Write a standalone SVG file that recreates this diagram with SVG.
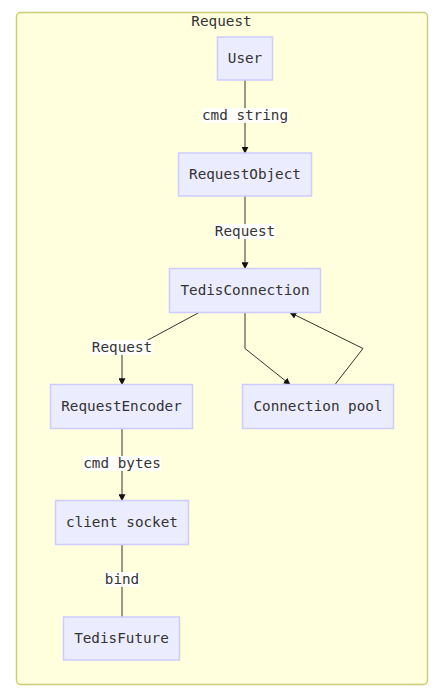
<svg xmlns="http://www.w3.org/2000/svg" width="442" height="697" viewBox="0 0 442 697">
<defs>
<style>
text{font-family:"DejaVu Sans Mono","Liberation Mono",monospace;font-size:14.3px;fill:#333;text-anchor:middle;dominant-baseline:central}
.node rect{fill:#ececff;stroke:#ccccff;stroke-width:1.5}
.edge{fill:none;stroke:#333;stroke-width:1}
.lbl{fill:#ffffff;opacity:0.9}
</style>
<marker id="arr" viewBox="0 0 10 10" refX="9" refY="5" markerWidth="7" markerHeight="7" orient="auto" markerUnits="userSpaceOnUse">
<path d="M0,0 L10,5 L0,10 z" fill="#111"/>
</marker>
</defs>
<rect width="442" height="697" fill="#ffffff"/>
<g id="cluster-Request">
<rect x="16.5" y="12.5" width="411" height="672" rx="4" fill="#ffffde" stroke="#cccc77" stroke-width="1.5"/>
<text x="221.5" y="20.5">Request</text>
</g>
<g id="connectors">
<path class="edge" d="M245,80 V153" marker-end="url(#arr)"/>
<path class="edge" d="M245,196 V268.5" marker-end="url(#arr)"/>
<path class="edge" d="M199,312.5 L122,354 V384.5" marker-end="url(#arr)"/>
<path class="edge" d="M245,312.5 V348.5 L290,384.5" marker-end="url(#arr)"/>
<path class="edge" d="M335,384.5 L363,348.5 L290,312.5" marker-end="url(#arr)"/>
<path class="edge" d="M122,428.5 V500.5" marker-end="url(#arr)"/>
<path class="edge" d="M122,544.5 V617"/>
<g id="edge-labels">
<rect class="lbl" x="201.5" y="108" width="87" height="15"/>
<text x="245" y="115">cmd string</text>
<rect class="lbl" x="214.5" y="224" width="61" height="15"/>
<text x="245" y="231">Request</text>
<rect class="lbl" x="91.5" y="340" width="61" height="15"/>
<text x="122" y="347">Request</text>
<rect class="lbl" x="83" y="456" width="78" height="15"/>
<text x="122" y="463">cmd bytes</text>
<rect class="lbl" x="104.5" y="572" width="35" height="15"/>
<text x="122" y="579">bind</text>
</g>
</g>
<g id="node-User" class="node">
<rect x="217.5" y="37" width="55" height="43"/>
<text x="245" y="57.5">User</text>
</g>
<g id="node-RequestObject" class="node">
<rect x="178.5" y="153" width="133" height="43"/>
<text x="245" y="173.5">RequestObject</text>
</g>
<g id="node-TedisConnection" class="node">
<rect x="169.5" y="268.5" width="151" height="44"/>
<text x="245" y="289.5">TedisConnection</text>
</g>
<g id="node-RequestEncoder" class="node">
<rect x="50.5" y="384.5" width="142" height="44"/>
<text x="121.5" y="405.5">RequestEncoder</text>
</g>
<g id="node-ConnectionPool" class="node">
<rect x="242.5" y="384.5" width="151" height="44"/>
<text x="318" y="405.5">Connection pool</text>
</g>
<g id="node-clientSocket" class="node">
<rect x="55.5" y="500.5" width="133" height="44"/>
<text x="122" y="521.5">client socket</text>
</g>
<g id="node-TedisFuture" class="node">
<rect x="63.5" y="617" width="116" height="43"/>
<text x="121.5" y="637.5">TedisFuture</text>
</g>
</svg>
